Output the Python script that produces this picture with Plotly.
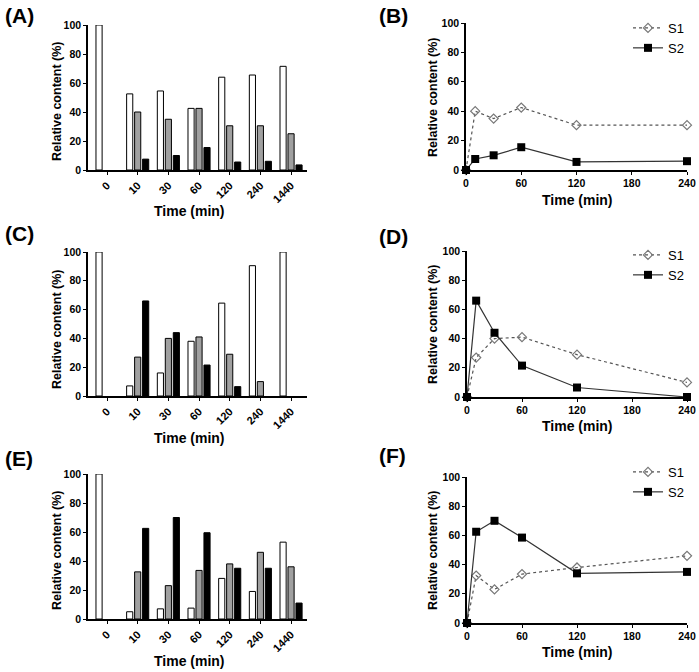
import plotly.graph_objects as go

W, H = 699, 672

bar_cats = ["0", "10", "30", "60", "120", "240", "1440"]
line_times = [0, 10, 30, 60, 120, 240]

A_white = [100, 52.5, 54.5, 42.5, 64, 65.5, 71.5]
A_gray = [0, 40, 35, 42.5, 30.5, 30.5, 25]
A_black = [0, 7.5, 10, 15.5, 5.5, 6, 3.5]

C_white = [100, 7, 16, 38, 64.5, 90.5, 100]
C_gray = [0, 27, 40, 41, 29, 10, 0]
C_black = [0, 66, 44, 21.5, 6.5, 0, 0]

E_white = [100, 5, 7, 7.5, 28, 19, 53]
E_gray = [0, 32.5, 23, 33.5, 38, 46, 36]
E_black = [0, 62.5, 70, 59.5, 35, 35, 11]

B_S1 = [0, 40, 35, 42.5, 30.5, 30.5]
B_S2 = [0, 7.5, 10, 15.5, 5.5, 6]
D_S1 = [0, 27, 40, 41, 29, 10]
D_S2 = [0, 66, 44, 21.5, 6.5, 0]
F_S1 = [0, 32.5, 23, 33.5, 38, 46]
F_S2 = [0, 62.5, 70, 58.5, 34, 35]

FONT = "Liberation Sans, Arial, sans-serif"


def px_x(p):
    return p / W


def px_y(p):
    return 1 - p / H


fig = go.Figure()

# panel geometry in pixels: (x0, x1, ytop, ybottom)
bar_panels = [
    ("", (88, 307, 25, 170), A_white, A_gray, A_black),
    ("3", (88, 307, 252, 396), C_white, C_gray, C_black),
    ("5", (88, 307, 474, 619), E_white, E_gray, E_black),
]
# last item: legend name, legend top px
line_panels = [
    ("2", (466, 687, 23, 170), B_S1, B_S2, "", 13),
    ("4", (467, 687, 251, 397), D_S1, D_S2, "2", 240),
    ("6", (467, 687, 477, 623), F_S1, F_S2, "3", 457),
]

layout = dict(
    width=W, height=H, margin=dict(l=0, r=0, t=0, b=0, autoexpand=False),
    paper_bgcolor="white", plot_bgcolor="white",
    barmode="group", bargap=0.22, bargroupgap=0.23,
    font=dict(family=FONT, color="black"),
    showlegend=True,
)

tickfont = dict(size=10.5, family=FONT, weight="bold")
xbarfont = dict(size=11, family=FONT, weight="bold")

for suf, (x0, x1, yt, yb), w, g, b in bar_panels:
    xa, ya = "x" + suf, "y" + suf
    for vals, col in ((w, "white"), (g, "#a0a0a0"), (b, "black")):
        fig.add_trace(go.Bar(x=bar_cats, y=[v if v else None for v in vals],
                             xaxis=xa, yaxis=ya,
                             marker=dict(color=col, line=dict(color="black", width=1)),
                             showlegend=False))
    layout["xaxis" + suf] = dict(
        domain=[px_x(x0), px_x(x1)], anchor=ya, type="category",
        range=[-0.62, 6.52], showline=True, linecolor="black", linewidth=1.5,
        ticks="outside", ticklen=3, tickcolor="black", tickangle=-45,
        tickfont=xbarfont, showgrid=False, automargin=False)
    layout["yaxis" + suf] = dict(
        domain=[px_y(yb), px_y(yt)], anchor=xa, range=[0, 100],
        tickvals=[0, 20, 40, 60, 80, 100], showline=True, linecolor="black",
        linewidth=1.5, ticks="outside", ticklen=3, tickcolor="black",
        tickfont=tickfont, showgrid=False, zeroline=False, automargin=False)

for suf, (x0, x1, yt, yb), s1, s2, lg, ltop in line_panels:
    xa, ya = "x" + suf, "y" + suf
    legname = "legend" + lg
    fig.add_trace(go.Scatter(x=line_times, y=s1, xaxis=xa, yaxis=ya, name="S1",
                             mode="lines+markers", cliponaxis=False,
                             line=dict(color="#555555", width=1.2, dash="dot"),
                             marker=dict(symbol="diamond-open", size=7,
                                         color="#777777", line=dict(width=1.2)),
                             legend=legname))
    fig.add_trace(go.Scatter(x=line_times, y=s2, xaxis=xa, yaxis=ya, name="S2",
                             mode="lines+markers", cliponaxis=False,
                             line=dict(color="#333333", width=1.2),
                             marker=dict(symbol="square", size=8, color="black"),
                             legend=legname))
    layout["xaxis" + suf] = dict(
        domain=[px_x(x0), px_x(x1)], anchor=ya, range=[0, 240],
        tickvals=[0, 60, 120, 180, 240], showline=True, linecolor="black",
        linewidth=1.5, ticks="outside", ticklen=3, tickcolor="black",
        tickfont=tickfont, showgrid=False, zeroline=False, automargin=False)
    layout["yaxis" + suf] = dict(
        domain=[px_y(yb), px_y(yt)], anchor=xa, range=[0, 100],
        tickvals=[0, 20, 40, 60, 80, 100], showline=True, linecolor="black",
        linewidth=1.5, ticks="outside", ticklen=3, tickcolor="black",
        tickfont=tickfont, showgrid=False, zeroline=False, automargin=False)
    layout[legname] = dict(
        x=px_x(628), y=px_y(ltop), xanchor="left", yanchor="top",
        bgcolor="rgba(0,0,0,0)", font=dict(size=13, family=FONT),
        tracegroupgap=0, itemwidth=30, borderwidth=0)

ann = []
# panel labels
for txt, x, y in (("(A)", 3, 15), ("(B)", 377, 15), ("(C)", 3, 233),
                  ("(D)", 377, 237), ("(E)", 3, 458), ("(F)", 377, 455)):
    ann.append(dict(text=txt, x=px_x(x), y=px_y(y), xref="paper", yref="paper",
                    xanchor="left", yanchor="middle", showarrow=False,
                    font=dict(size=21, family=FONT, weight="bold")))
# y titles
for x, yc in ((57, 102), (433, 98), (57, 330), (433, 325), (57, 551), (433, 551)):
    ann.append(dict(text="Relative content (%)", x=px_x(x), y=px_y(yc),
                    xref="paper", yref="paper", textangle=-90, showarrow=False,
                    xanchor="center", yanchor="middle",
                    font=dict(size=12.5, family=FONT, weight="bold")))
# x titles
for x, y in ((190, 211), (577, 200), (190, 438), (577, 426), (190, 661), (577, 652)):
    ann.append(dict(text="Time (min)", x=px_x(x), y=px_y(y), xref="paper",
                    yref="paper", showarrow=False, xanchor="center",
                    yanchor="middle",
                    font=dict(size=14, family=FONT, weight="bold")))
layout["annotations"] = ann

fig.update_layout(**layout)
fig.write_html("out.html", config={"displayModeBar": False},
               post_script="document.body.style.margin='0';document.body.style.padding='0';")
